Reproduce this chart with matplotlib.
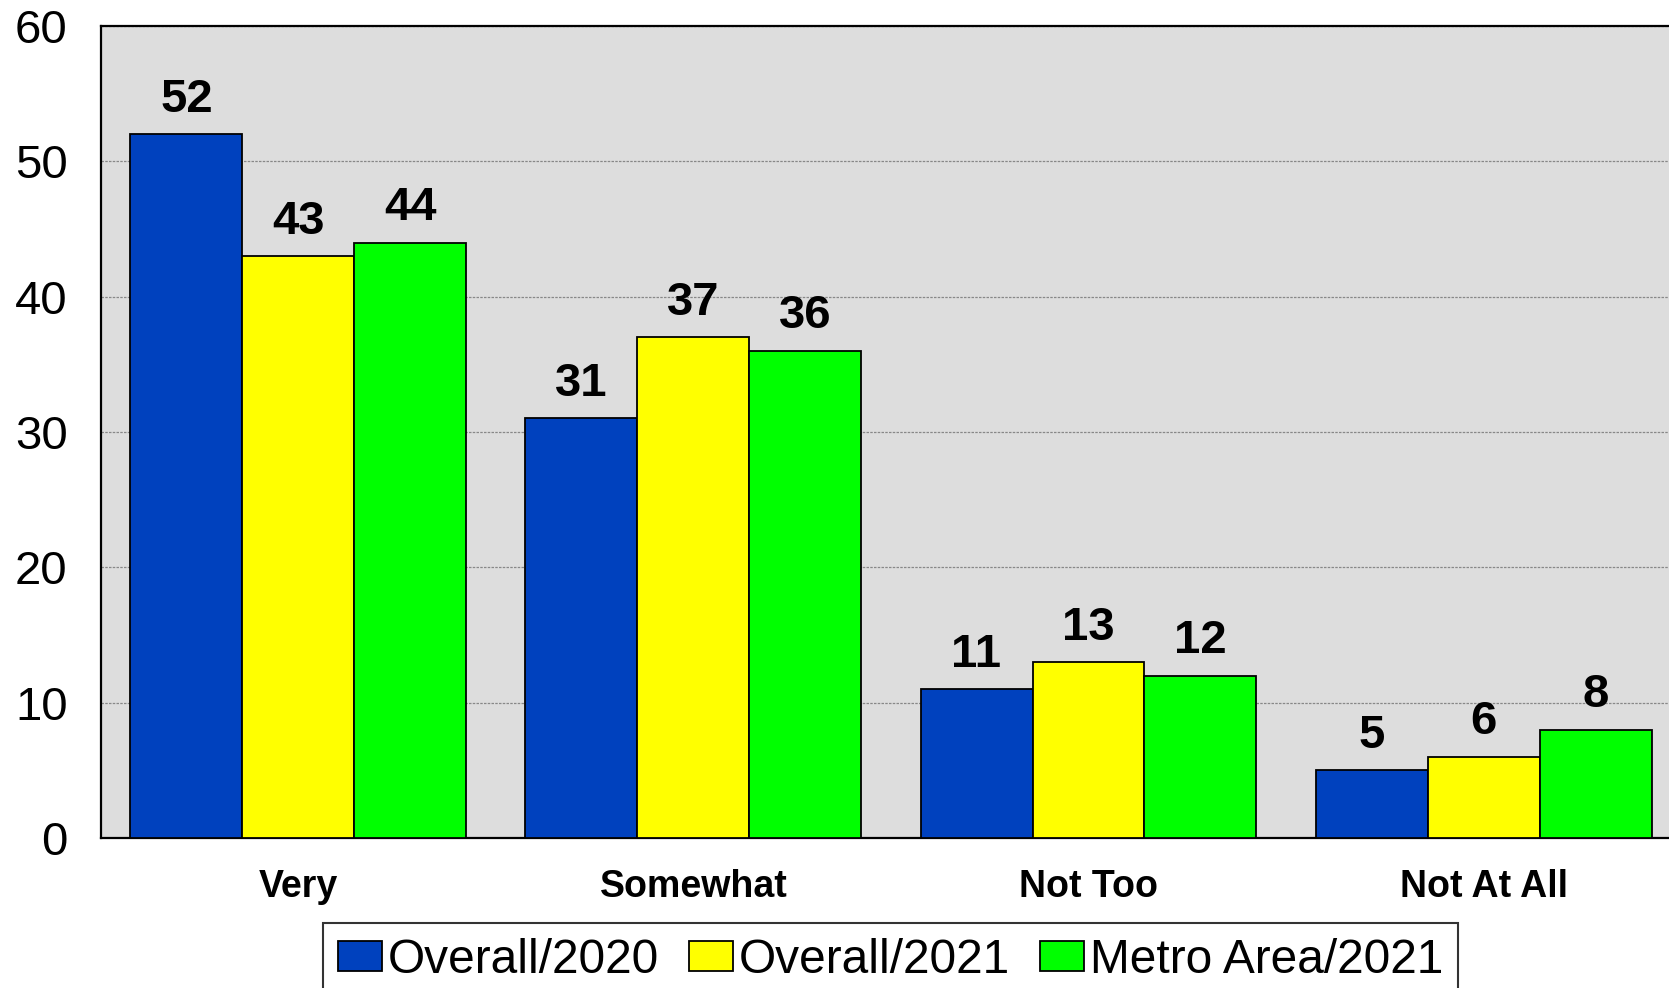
import numpy as np
import matplotlib
matplotlib.use("Agg")
import matplotlib.pyplot as plt

categories = ["Very", "Somewhat", "Not Too", "Not At All"]
series_names = ["Overall/2020", "Overall/2021", "Metro Area/2021"]
overall_2020 = [52, 31, 11, 5]
overall_2021 = [43, 37, 13, 6]
metro_2021 = [44, 36, 12, 8]
colors = ["#0041BE", "#FFFF00", "#00FF00"]

plt.rcParams['font.family'] = ['Liberation Sans', 'DejaVu Sans']


def main():
    fig = plt.figure(figsize=(16.69, 9.88), dpi=100)
    ax = fig.add_axes([0.0605, 0.1518, 0.9467, 0.8219])
    ax.set_facecolor("#DDDDDD")

    spacing = 3.527
    x = np.arange(len(categories)) * spacing
    all_series = [overall_2020, overall_2021, metro_2021]
    handles = []
    for i, (vals, col, name) in enumerate(zip(all_series, colors, series_names)):
        bars = ax.bar(x + (i - 1), vals, width=1.0, color=col, edgecolor="black",
                      linewidth=1.3, label=name, zorder=3)
        ax.bar_label(bars, labels=[str(v) for v in vals], padding=9,
                     fontsize=34, fontweight="bold", zorder=4)
        handles.append(bars)

    ax.set_ylim(0, 60)
    ax.set_xlim(-spacing / 2, x[-1] + spacing / 2)
    ax.set_yticks(range(0, 61, 10))
    ax.set_xticks(x)
    ax.set_xticklabels(categories, fontsize=27, fontweight="bold")
    ax.tick_params(axis="y", length=0, pad=24, labelsize=34)
    ax.tick_params(axis="x", length=0, pad=22)

    ax.yaxis.grid(True, linestyle=(0, (2, 1)), color="#888888", linewidth=0.9, zorder=0)
    ax.set_axisbelow(True)
    for s in ax.spines.values():
        s.set_linewidth(1.6)
        s.set_color("black")

    leg = fig.legend(handles=handles, labels=series_names, loc="upper left",
                     bbox_to_anchor=(0.1934, 0.0661), bbox_transform=fig.transFigure,
                     ncol=3, fontsize=34.5, frameon=True, fancybox=False,
                     borderaxespad=0, borderpad=0.32, handlelength=0.92,
                     handleheight=0.57, handletextpad=0.12, columnspacing=0.62)
    leg.get_frame().set_edgecolor("black")
    leg.get_frame().set_linewidth(1.5)

    fig.savefig("out.png", dpi=100)


if __name__ == "__main__":
    main()
